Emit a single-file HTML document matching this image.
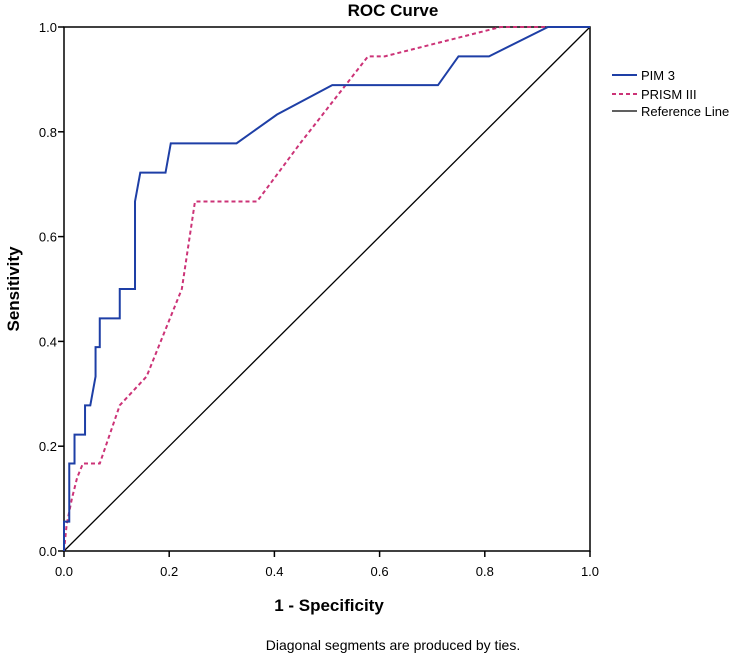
<!DOCTYPE html>
<html><head><meta charset="utf-8"><style>
html,body{margin:0;padding:0;background:#fff;}
svg{display:block;font-family:"Liberation Sans",Arial,sans-serif;}
</style></head><body>
<svg id="chart" width="744" height="659" viewBox="0 0 744 659">
<text x="393" y="16" text-anchor="middle" font-size="17" font-weight="bold">ROC Curve</text>
<g id="axes"></g>
<g id="series"></g>
<text x="329" y="611" text-anchor="middle" font-size="17" font-weight="bold">1 - Specificity</text>
<text transform="translate(19,289) rotate(-90)" text-anchor="middle" font-size="17" font-weight="bold">Sensitivity</text>
<text x="393" y="650" text-anchor="middle" font-size="14">Diagonal segments are produced by ties.</text>
<g>
<g><line x1="612" y1="75" x2="637" y2="75" stroke="#1e3fa6" stroke-width="2"/><text x="641" y="80" font-size="13">PIM 3</text></g>
<g><line x1="612" y1="94" x2="637" y2="94" stroke="#cc3377" stroke-width="2" stroke-dasharray="4,3"/><text x="641" y="99" font-size="13">PRISM III</text></g>
<g><line x1="612" y1="111" x2="637" y2="111" stroke="#000" stroke-width="1.3"/><text x="641" y="116" font-size="13">Reference Line</text></g>
</g>
</svg>
<script>
const ticks = [0, 0.2, 0.4, 0.6, 0.8, 1.0];
const tickLabels = ["0.0", "0.2", "0.4", "0.6", "0.8", "1.0"];
const pimFpr = [0, 0, 0.01, 0.01, 0.02, 0.02, 0.04, 0.04, 0.05, 0.06, 0.06, 0.068, 0.068, 0.106, 0.106, 0.135, 0.135, 0.145, 0.193, 0.203, 0.328, 0.405, 0.51, 0.711, 0.75, 0.808, 0.92, 1];
const pimTpr = [0, 0.056, 0.056, 0.167, 0.167, 0.222, 0.222, 0.278, 0.278, 0.333, 0.389, 0.389, 0.444, 0.444, 0.5, 0.5, 0.667, 0.722, 0.722, 0.778, 0.778, 0.833, 0.889, 0.889, 0.944, 0.944, 1, 1];
const prismFpr = [0, 0.005, 0.015, 0.025, 0.036, 0.068, 0.106, 0.157, 0.224, 0.249, 0.367, 0.449, 0.578, 0.61, 0.83, 1];
const prismTpr = [0, 0.05, 0.1, 0.14, 0.167, 0.167, 0.278, 0.333, 0.5, 0.667, 0.667, 0.778, 0.944, 0.944, 1, 1];
const refFpr = [0, 1];
const refTpr = [0, 1];

const X0 = 64, X1 = 590, Y0 = 551, Y1 = 27;
const sx = v => X0 + v * (X1 - X0);
const sy = v => Y0 - v * (Y0 - Y1);
const NS = "http://www.w3.org/2000/svg";
const axes = document.getElementById("axes");
const series = document.getElementById("series");

const frame = document.createElementNS(NS, "rect");
frame.setAttribute("x", X0); frame.setAttribute("y", Y1);
frame.setAttribute("width", X1 - X0); frame.setAttribute("height", Y0 - Y1);
frame.setAttribute("fill", "none"); frame.setAttribute("stroke", "#000"); frame.setAttribute("stroke-width", "1.5");


axes.appendChild(frame);

ticks.forEach((t, i) => {
  const xt = document.createElementNS(NS, "line");
  xt.setAttribute("x1", sx(t)); xt.setAttribute("x2", sx(t));
  xt.setAttribute("y1", Y0); xt.setAttribute("y2", Y0 + 6);
  xt.setAttribute("stroke", "#000"); xt.setAttribute("stroke-width", "1.5");
  
  
  axes.appendChild(xt);
  const xl = document.createElementNS(NS, "text");
  xl.setAttribute("x", sx(t)); xl.setAttribute("y", 576);
  xl.setAttribute("text-anchor", "middle"); xl.setAttribute("font-size", "13");
  xl.textContent = tickLabels[i];
  
  
  axes.appendChild(xl);
  const yt = document.createElementNS(NS, "line");
  yt.setAttribute("x1", X0 - 6); yt.setAttribute("x2", X0);
  yt.setAttribute("y1", sy(t)); yt.setAttribute("y2", sy(t));
  yt.setAttribute("stroke", "#000"); yt.setAttribute("stroke-width", "1.5");
  
  
  axes.appendChild(yt);
  const yl = document.createElementNS(NS, "text");
  yl.setAttribute("x", X0 - 7); yl.setAttribute("y", sy(t) + 5);
  yl.setAttribute("text-anchor", "end"); yl.setAttribute("font-size", "13");
  yl.textContent = tickLabels[i];
  
  
  axes.appendChild(yl);
});

function drawLine(xs, ys, color, width, dash, name) {
  const p = document.createElementNS(NS, "polyline");
  p.setAttribute("points", xs.map((v, i) => sx(v) + "," + sy(ys[i])).join(" "));
  p.setAttribute("fill", "none"); p.setAttribute("stroke", color);
  p.setAttribute("stroke-width", width);
  if (dash) p.setAttribute("stroke-dasharray", dash);
  
  
  series.appendChild(p);
}
drawLine(refFpr, refTpr, "#000", 1.3, null, "reference-line");
drawLine(prismFpr, prismTpr, "#cc3377", 2, "4,3", "prism3-curve");
drawLine(pimFpr, pimTpr, "#1e3fa6", 2, null, "pim3-curve");
</script>
</body></html>
